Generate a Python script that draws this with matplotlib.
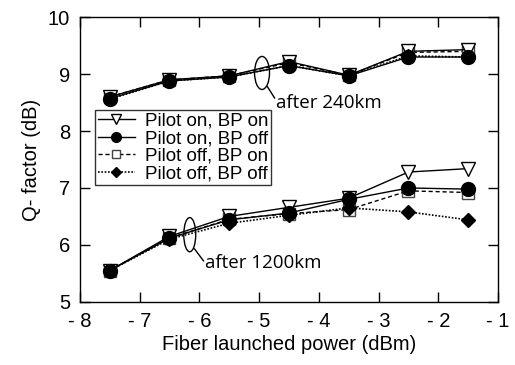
import matplotlib
matplotlib.use("Agg")
import matplotlib.pyplot as plt
from matplotlib.patches import Ellipse

power = [-7.5, -6.5, -5.5, -4.5, -3.5, -2.5, -1.5]

# after 240 km
q240_on_on = [8.60, 8.90, 8.97, 9.22, 8.98, 9.40, 9.43]
q240_on_off = [8.57, 8.88, 8.95, 9.15, 8.97, 9.30, 9.30]
q240_off_on = [8.60, 8.90, 8.97, 9.20, 8.98, 9.38, 9.40]
q240_off_off = [8.56, 8.88, 8.95, 9.15, 8.97, 9.32, 9.30]

# after 1200 km
q1200_on_on = [5.55, 6.15, 6.50, 6.66, 6.82, 7.28, 7.34]
q1200_on_off = [5.55, 6.12, 6.44, 6.56, 6.80, 7.00, 6.98]
q1200_off_on = [5.55, 6.12, 6.45, 6.55, 6.62, 6.95, 6.92]
q1200_off_off = [5.55, 6.10, 6.38, 6.52, 6.65, 6.58, 6.44]

labels = ["Pilot on, BP on", "Pilot on, BP off", "Pilot off, BP on", "Pilot off, BP off"]
xticks = [-8, -7, -6, -5, -4, -3, -2, -1]
yticks = [5, 6, 7, 8, 9, 10]

plt.rcParams['font.family'] = ['Liberation Sans', 'DejaVu Sans']

fig = plt.figure(figsize=(5.15, 3.65), dpi=100)
ax = fig.add_axes([0.155, 0.173, 0.812, 0.780])

styles = [
    dict(ls='-', marker='v', mfc='white', mec='black', ms=10, lw=1.0),
    dict(ls='-', marker='o', mfc='black', mec='black', ms=10, lw=1.0),
    dict(ls=(0, (3, 2)), marker='s', mfc='white', mec='#444444', ms=9, lw=1.0),
    dict(ls=(0, (1, 1)), marker='D', mfc='black', mec='black', ms=7, lw=1.2),
]

series240 = [q240_on_on, q240_on_off, q240_off_on, q240_off_off]
series1200 = [q1200_on_on, q1200_on_off, q1200_off_on, q1200_off_off]

order = [2, 0, 1, 3]
hmap = {}
for i in order:
    st = styles[i]
    h, = ax.plot(power, series240[i], color='black', label=labels[i], **st)
    ax.plot(power, series1200[i], color='black', **st)
    hmap[i] = h
handles = [hmap[i] for i in range(4)]

ax.set_xlim(-8, -1)
ax.set_ylim(5, 10)
ax.set_xticks(xticks)
ax.set_xticklabels(["- %d" % abs(v) for v in xticks])
ax.set_yticks(yticks)
ax.tick_params(direction='in', top=True, right=True, length=7, width=1.0,
               labelsize=14.5)
ax.tick_params(axis='x', pad=7.5)
ax.tick_params(axis='y', pad=7)
for s in ax.spines.values():
    s.set_linewidth(1.0)

ax.set_xlabel("Fiber launched power (dBm)", fontsize=14.5, labelpad=3)
ax.set_ylabel("Q- factor (dB)", fontsize=14.5, labelpad=5)

leg = ax.legend(handles=handles, loc='upper left', bbox_to_anchor=(0.036, 0.674),
                fontsize=13.5, frameon=True, fancybox=False, edgecolor='black',
                handlelength=2.0, handletextpad=0.5, borderpad=0.15,
                labelspacing=0.02, borderaxespad=0.0, markerscale=0.7)
leg.get_frame().set_linewidth(1.0)

# annotations
ax.add_patch(Ellipse((-4.95, 9.02), 0.25, 0.58, fill=False, ec='black', lw=1.0))
ax.plot([-4.86, -4.74], [8.78, 8.58], color='black', lw=1.0)
ax.text(-4.72, 8.49, "after 240km", fontsize=13.5, va='center', ha='left',
        family=['Open Sans', 'DejaVu Sans'])

ax.add_patch(Ellipse((-6.16, 6.18), 0.2, 0.6, fill=False, ec='black', lw=1.0))
ax.plot([-6.08, -5.93], [5.93, 5.72], color='black', lw=1.0)
ax.text(-5.91, 5.68, "after 1200km", fontsize=13.5, va='center', ha='left',
        family=['Open Sans', 'DejaVu Sans'])

fig.savefig("out.png", dpi=100)
